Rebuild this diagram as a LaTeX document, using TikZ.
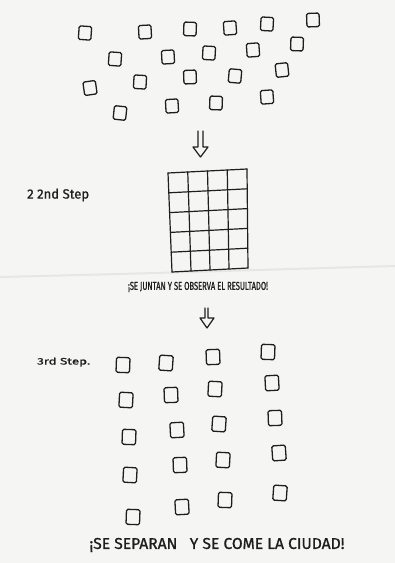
\documentclass[tikz,border=0pt]{standalone}
\usepackage{fontspec}
\setmainfont{Fira Sans}
\usetikzlibrary{calc}
\definecolor{paper}{HTML}{F5F5F3}
\definecolor{ink}{HTML}{1E1E1E}
\definecolor{crease}{HTML}{DDDDDB}
\tikzset{
 sq/.style={draw=ink, line width=1.3pt, rounded corners=1.5pt, minimum width=12.5pt, minimum height=13.5pt, inner sep=0pt},
 bsq/.style={sq, minimum width=13.5pt, minimum height=15pt},
 inkline/.style={draw=ink, line width=1.2pt, line join=round, line cap=round},
 hand/.style={text=ink, inner sep=0pt, font=\addfontfeatures{FakeBold=1}}
}
\begin{document}
\begin{tikzpicture}[x=1pt,y=-1pt]
\fill[paper] (0,0) rectangle (395,563);
\useasboundingbox (0,0) rectangle (395,563);
% paper crease
\draw[crease, line width=2pt, opacity=0.6] (0,277) -- (120,274) -- (395,266);
% top scattered squares
\foreach \n/\x/\y/\r in {
  t1/85/33/-4, t2/145/32/3, t3/190/29/-2, t4/230/28/4, t5/267/24/-3, t6/313/20/2,
  t7/115/59/-4, t8/168/57/3, t9/209/53/-3, t10/253/50/4, t11/297/44/-2,
  t12/90/88/8, t13/140/82/-3, t14/190/77/2, t15/235/76/-5, t16/282/70/6,
  t17/120/113/-6, t18/172/106/3, t19/216/103/-2, t20/267/97/4}
  \node[sq, rotate=\r] (\n) at (\x,\y) {};
% arrow 1
\coordinate (a1) at (198,131);
\draw[inkline] (a1) -- ++(0,16) -- ++(-5,0) -- ++(7.5,10) -- ++(7.5,-10) -- ++(-5,0) -- ++(0,-16);
% grid
\coordinate (gTL) at (168,173);
\coordinate (gTR) at (247,169);
\coordinate (gBL) at (172,272);
\coordinate (gBR) at (248,268);
\foreach \i in {0,...,4}
  \draw[inkline] ($(gTL)!\i/4!(gTR)$) -- ($(gBL)!\i/4!(gBR)$);
\foreach \j in {0,...,5}
  \draw[inkline] ($(gTL)!\j/5!(gBL)$) -- ($(gTR)!\j/5!(gBR)$);
% labels
\node[hand, anchor=west] (l2) at (27,195) {\resizebox{62pt}{10pt}{2 2nd Step}};
\node[hand] (txt1) at (198,287) {\resizebox{140pt}{8pt}{¡SE JUNTAN Y SE OBSERVA EL RESULTADO!}};
% arrow 2
\coordinate (a2) at (205,308);
\draw[inkline] (a2) -- ++(0,10) -- ++(-5,0) -- ++(7,10) -- ++(7,-10) -- ++(-6,0) -- ++(0,-10);
\node[hand, anchor=west] (l3) at (37,362) {\resizebox{53pt}{7pt}{3rd Step.}};
% bottom squares
\foreach \n/\x/\y/\r in {
  b1/123/365/-2, b2/166/363/-4, b3/213/357/2, b4/268/352/-2,
  b5/126/400/-3, b6/171/395/2, b7/215/389/-3, b8/272/383/3,
  b9/129/437/-2, b10/177/430/3, b11/219/424/-4, b12/275/418/2,
  b13/130/475/-3, b14/180/465/2, b15/223/460/-3, b16/279/453/4,
  b17/133/517/-2, b18/182/507/3, b19/225/500/-2, b20/280/493/-4}
  \node[bsq, rotate=\r] (\n) at (\x,\y) {};
\node[hand] (txt2) at (217,545) {\resizebox{255pt}{11pt}{¡SE SEPARAN \ \ Y SE COME LA CIUDAD!}};
\end{tikzpicture}
\end{document}
